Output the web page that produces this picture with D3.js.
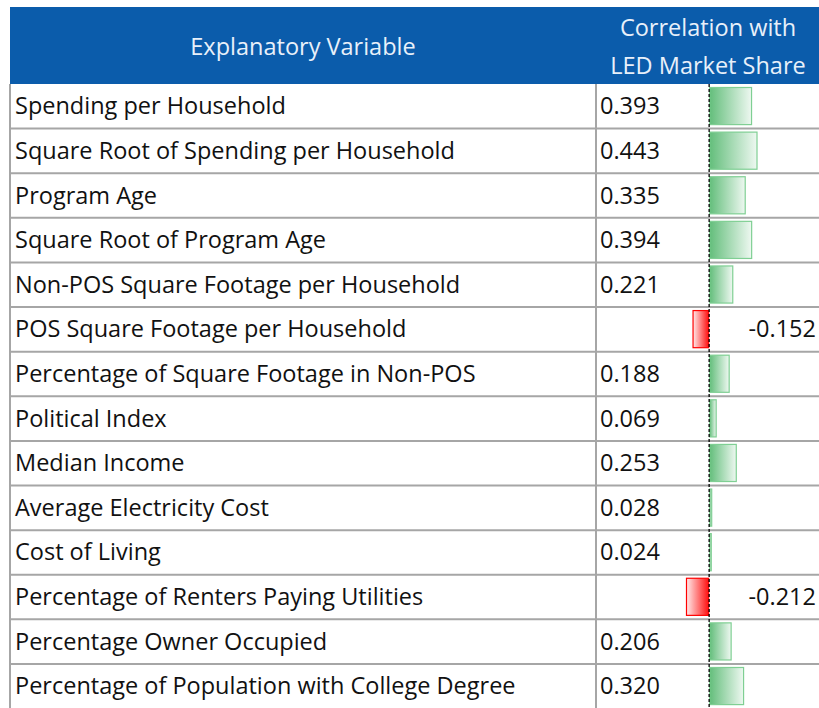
<!doctype html>
<html>
<head>
  <meta charset="utf-8">
  <script src="https://cdnjs.cloudflare.com/ajax/libs/d3/7.8.5/d3.min.js"></script>
  <style>
    body { margin: 0; background: #fff; }
    svg { display: block; }
    text { font-family: "Open Sans", "Noto Sans", sans-serif; font-size: 23.5px; }
  </style>
</head>
<body>
<svg width="819" height="708"></svg>
<script>
  var variables = [
    "Spending per Household",
    "Square Root of Spending per Household",
    "Program Age",
    "Square Root of Program Age",
    "Non-POS Square Footage per Household",
    "POS Square Footage per Household",
    "Percentage of Square Footage in Non-POS",
    "Political Index",
    "Median Income",
    "Average Electricity Cost",
    "Cost of Living",
    "Percentage of Renters Paying Utilities",
    "Percentage Owner Occupied",
    "Percentage of Population with College Degree"
  ];
  var correlations = [0.393, 0.443, 0.335, 0.394, 0.221, -0.152, 0.188, 0.069, 0.253, 0.028, 0.024, -0.212, 0.206, 0.320];
  var headers = ["Explanatory Variable", ["Correlation with", "LED Market Share"]];

  var rows = variables.map((v, i) => ({ name: v, value: correlations[i] }));
  var fmt = d3.formatLocale({ decimal: ".", thousands: ",", grouping: [3], currency: ["", ""], minus: "-" }).format(".3f");

  var svg = d3.select("svg");
  var left = 10, mid = 596, right = 830, headTop = 7, headBottom = 84;

  var y = d3.scaleBand().domain(variables).range([headBottom, 708.6]);
  var x = d3.scaleLinear().domain([-0.212, 0.443]).range([686, 757.5]);

  var defs = svg.append("defs");
  var gPos = defs.append("linearGradient").attr("id", "gpos");
  gPos.append("stop").attr("offset", "0%").attr("stop-color", "#63be7b");
  gPos.append("stop").attr("offset", "100%").attr("stop-color", "#eef8f1");
  var gNeg = defs.append("linearGradient").attr("id", "gneg");
  gNeg.append("stop").attr("offset", "0%").attr("stop-color", "#ffeaea");
  gNeg.append("stop").attr("offset", "100%").attr("stop-color", "#ff1010");

  // header
  svg.append("rect").attr("x", left).attr("y", headTop)
    .attr("width", right - left).attr("height", headBottom - headTop)
    .attr("fill", "#0b5cab");
  svg.append("text").attr("x", (left + mid) / 2).attr("y", 55)
    .attr("text-anchor", "middle").attr("fill", "#e8f0fa")
    .text(headers[0]);
  svg.selectAll(".h2").data(headers[1]).enter().append("text")
    .attr("x", 708).attr("y", (d, i) => 36 + i * 38)
    .attr("text-anchor", "middle").attr("fill", "#e8f0fa")
    .text(d => d);

  // grid
  svg.selectAll(".hline").data(variables.slice(1)).enter().append("line")
    .attr("x1", left).attr("x2", right)
    .attr("y1", d => y(d)).attr("y2", d => y(d))
    .attr("stroke", "#a6a6a6").attr("stroke-width", 2);
  [left, mid].forEach(function (vx) {
    svg.append("line").attr("x1", vx).attr("x2", vx)
      .attr("y1", headBottom).attr("y2", 708)
      .attr("stroke", "#a6a6a6").attr("stroke-width", 2);
  });

  // bars
  svg.selectAll(".bar").data(rows).enter().append("rect")
    .attr("x", d => Math.min(x(0), x(d.value)) + 0.5)
    .attr("y", d => y(d.name) + 3.5)
    .attr("width", d => Math.abs(x(d.value) - x(0)) - 1)
    .attr("height", y.bandwidth() - 7.5)
    .attr("fill", d => d.value >= 0 ? "url(#gpos)" : "url(#gneg)")
    .attr("stroke", d => d.value >= 0 ? "#7fcf93" : "#ff0000")
    .attr("stroke-width", 1.2);

  // zero axis
  svg.append("line").attr("x1", x(0)).attr("x2", x(0))
    .attr("y1", headBottom).attr("y2", 708)
    .attr("stroke", "#000").attr("stroke-width", 1.3)
    .attr("stroke-dasharray", "3,2");

  // labels
  svg.selectAll(".name").data(rows).enter().append("text")
    .attr("x", 15).attr("y", d => y(d.name) + y.bandwidth() / 2 + 8)
    .attr("fill", "#111").text(d => d.name);
  svg.selectAll(".val").data(rows).enter().append("text")
    .attr("x", d => d.value >= 0 ? 600 : 816)
    .attr("text-anchor", d => d.value >= 0 ? "start" : "end")
    .attr("y", d => y(d.name) + y.bandwidth() / 2 + 8)
    .attr("fill", "#111")
    .text(d => fmt(d.value));
</script>
</body>
</html>
